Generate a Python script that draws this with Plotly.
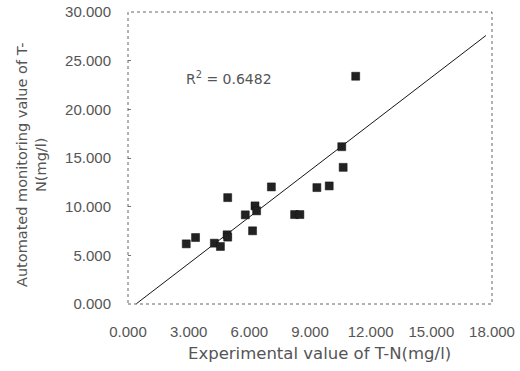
import plotly.graph_objects as go

# Data (mg/l)
experimental = [2.88, 3.34, 4.27, 4.57, 4.90, 4.93, 4.93, 5.80, 6.16, 6.28, 6.36,
                7.09, 8.24, 8.50, 9.34, 9.95, 10.57, 10.64, 11.26]
automated = [6.18, 6.83, 6.25, 5.91, 7.11, 6.87, 10.93, 9.16, 7.52, 10.08, 9.57,
             12.03, 9.19, 9.19, 11.96, 12.13, 16.16, 14.04, 23.40]

fit_slope = 1.594
fit_intercept = -0.63
fit_x = [0.41, 17.7]
fit_y = [fit_slope * v + fit_intercept for v in fit_x]

x_ticks = [0, 3, 6, 9, 12, 15, 18]
y_ticks = [0, 5, 10, 15, 20, 25, 30]
r2_text = "R<sup>2</sup> = 0.6482"

TEXT = "#555555"
FONT = "DejaVu Sans"
TICKFONT = "Liberation Sans"

fig = go.Figure()
fig.add_trace(go.Scatter(x=fit_x, y=fit_y, mode="lines",
                         line=dict(color="#151515", width=1), showlegend=False))
fig.add_trace(go.Scatter(x=experimental, y=automated, mode="markers",
                         marker=dict(symbol="square", size=8, color="#222222",
                                     line=dict(color="#111111", width=0.5)),
                         showlegend=False))

fig.update_layout(
    width=520, height=371,
    margin=dict(l=128, r=28, t=12, b=67, pad=0),
    paper_bgcolor="white", plot_bgcolor="white",
    font=dict(family=FONT, color=TEXT, size=13),
    xaxis=dict(range=[0, 18], tickvals=x_ticks, tickformat=".3f",
               automargin=False,
               showgrid=False, zeroline=False, showline=False,
               ticks="", ticklabelstandoff=17,
               tickfont=dict(family=TICKFONT, size=15, color=TEXT)),
    yaxis=dict(range=[0, 30], tickvals=y_ticks, tickformat=".3f",
               automargin=False,
               showgrid=False, zeroline=False, showline=False,
               ticks="inside", ticklen=3, tickcolor="#777777",
               ticklabelstandoff=16,
               tickfont=dict(family=TICKFONT, size=15, color=TEXT)),
    shapes=[dict(type="rect", xref="paper", yref="paper", x0=0, y0=0, x1=1, y1=1,
                 line=dict(color="#666666", width=1, dash="dot"))],
    annotations=[
        dict(text="Experimental value of T-N(mg/l)", xref="paper", yref="paper",
             x=(319 - 128) / 364, y=(304 - 353) / 292, showarrow=False,
             xanchor="center", yanchor="middle",
             font=dict(family=FONT, size=16.5, color=TEXT)),
        dict(text="Automated monitoring value of T-<br>N(mg/l)", xref="paper", yref="paper",
             x=(31 - 128) / 364, y=(304 - 165) / 292, showarrow=False,
             textangle=-90, xanchor="center", yanchor="middle",
             font=dict(family=FONT, size=14.5, color=TEXT)),
        dict(text=r2_text, xref="paper", yref="paper",
             x=(184 - 128) / 364, y=(304 - 78) / 292, showarrow=False,
             xanchor="left", yanchor="middle",
             font=dict(family=FONT, size=14, color=TEXT)),
    ],
)

fig.write_html("out.html", config={"displayModeBar": False},
               post_script="document.body.style.margin='0';")
